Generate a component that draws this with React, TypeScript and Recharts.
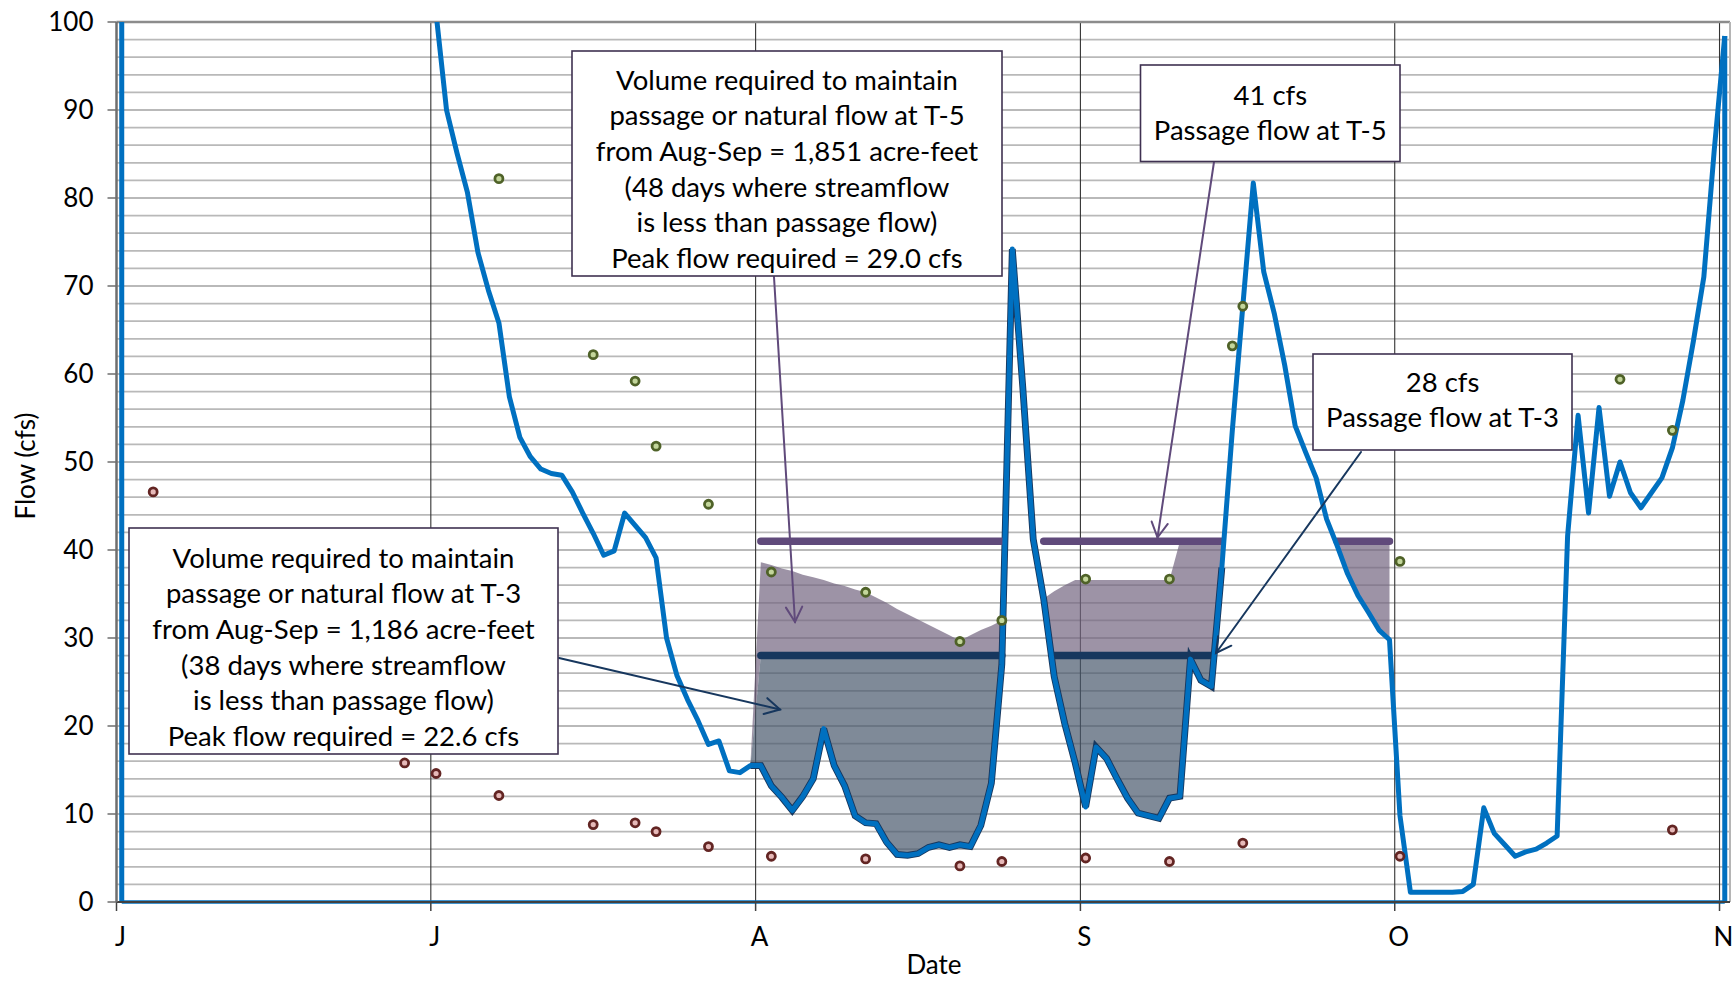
import React from 'react';
import {
  ComposedChart,
  Line,
  Area,
  XAxis,
  YAxis,
  CartesianGrid,
  ReferenceLine,
} from 'recharts';

const WIDTH = 1733;
const HEIGHT = 981;
const FONT = 'Lato, "Open Sans", sans-serif';

// x axis is a day count from Jun 1; a day's point sits mid-day (day + 0.5)
const MONTH_TICKS = [0, 30, 61, 92, 122, 153];
const MONTH_LABELS = ['J', 'J', 'A', 'S', 'O', 'N'];
const FLOW_TICKS = [0, 10, 20, 30, 40, 50, 60, 70, 80, 90, 100];
const X_MAX = 154;

const AUG_1 = 61;
const SEP_30 = 121;
const PASSAGE_T5 = 41;
const PASSAGE_T3 = 28;

// daily streamflow (cfs), Jul 1 (day 30) through Nov 1 (day 153)
const FLOW_START = 30;
const FLOW = [
  101, 90, 85.1, 80.6, 73.8, 69.5, 65.8, 57.4, 52.8, 50.6,
  49.2, 48.7, 48.5, 46.6, 44.2, 41.9, 39.4, 39.9, 44.2, 42.8,
  41.4, 39.1, 30.0, 25.7, 23.0, 20.6, 17.9, 18.3, 14.9, 14.7,
  15.5, 15.5, 13.2, 11.9, 10.4, 12.0, 14.0, 19.7, 15.5, 13.2,
  9.8, 9.0, 8.9, 6.8, 5.4, 5.3, 5.5, 6.2, 6.5, 6.2,
  6.5, 6.3, 8.7, 13.5, 27.0, 74.2, 58.5, 41.2, 34.4, 25.6,
  20.3, 15.8, 10.8, 17.6, 16.3, 14.0, 11.8, 10.1, 9.8, 9.5,
  11.8, 12.0, 27.6, 25.2, 24.5, 38.0, 53.6, 67.7, 81.7, 71.6,
  66.9, 61.0, 54.1, 51.1, 48.2, 43.5, 40.5, 37.3, 34.8, 32.9,
  30.9, 29.8, 9.8, 1.1, 1.1, 1.1, 1.1, 1.1, 1.2, 2.0,
  10.7, 7.8, 6.5, 5.2, 5.7, 6.0, 6.7, 7.5, 41.6, 55.3,
  44.2, 56.2, 46.1, 50.0, 46.5, 44.8, 46.5, 48.2, 51.6, 57.0,
  63.7, 71.0, 85.5, 98.4,
];

// flow needed at T-5 (natural flow, capped at passage), Aug 1 - Sep 30
const T5_TARGET = [
  38.6, 38.3, 37.9, 37.6, 37.2, 36.9, 36.6, 36.2, 35.9, 35.5,
  35.2, 34.6, 34.0, 33.3, 32.7, 32.1, 31.5, 30.9, 30.3, 29.7,
  30.3, 30.9, 31.4, 32.0, 32.6, 33.2, 33.8, 34.5, 35.3, 36.0,
  36.6, 36.6, 36.6, 36.6, 36.6, 36.6, 36.6, 36.6, 36.6, 36.6,
  41, 41, 41, 41, 41, 41, 41, 41, 41, 41,
  41, 41, 41, 41, 41, 41, 41, 41, 41, 41,
  41,
];

// spot measurements
const SPOT_DAYS = [3, 27, 30, 36, 45, 49, 51, 56, 62, 71, 80, 84, 92, 100, 106, 107, 122, 143, 148];
const SPOT_GREEN = [null, null, null, 82.2, 62.2, 59.2, 51.8, 45.2, 37.5, 35.2, 29.6, 32.0, 36.7, 36.7, 63.2, 67.7, 38.7, 59.4, 53.6];
const SPOT_RED = [46.6, 15.8, 14.6, 12.1, 8.8, 9.0, 8.0, 6.3, 5.2, 4.9, 4.1, 4.6, 5.0, 4.6, null, 6.7, 5.2, null, 8.2];

const GRID_VALUES: number[] = [];
for (let v = 2; v < 100; v += 2) GRID_VALUES.push(v);

const flowAt = (d: number) =>
  d >= FLOW_START && d - FLOW_START < FLOW.length ? FLOW[d - FLOW_START] : null;

const LAST_DAY = FLOW_START + FLOW.length - 1;

// the dark outline follows the flow through the T-3 shortfall stretches
let lastShort = AUG_1;
for (let d = AUG_1; d <= SEP_30; d++) {
  const f = flowAt(d);
  if (f !== null && f < PASSAGE_T3) lastShort = d;
}

const rows = Array.from({ length: LAST_DAY + 1 }, (_, d) => {
  const f = flowAt(d);
  const inWindow = d >= AUG_1 && d <= SEP_30;
  const spot = SPOT_DAYS.indexOf(d);
  let band3: number[] | null = null;
  let band5: number[] | null = null;
  if (f !== null && d === AUG_1 - 1) {
    band3 = [f, f];
    band5 = [f, f];
  } else if (f !== null && inWindow) {
    const top3 = Math.max(f, PASSAGE_T3);
    band3 = [f, top3];
    if (f < PASSAGE_T5) band5 = [top3, Math.max(top3, T5_TARGET[d - AUG_1])];
  }
  return {
    x: d + 0.5,
    flow: f,
    edge: d >= AUG_1 - 1 && d <= lastShort + 1 ? f : null,
    band3,
    band5,
    pass5: inWindow && f !== null && f < PASSAGE_T5 ? PASSAGE_T5 : null,
    pass3: inWindow && f !== null && f < PASSAGE_T3 ? PASSAGE_T3 : null,
    green: spot >= 0 ? SPOT_GREEN[spot] : null,
    red: spot >= 0 ? SPOT_RED[spot] : null,
  };
});

const LAST_X = LAST_DAY + 0.5;
const LAST_FLOW = FLOW[FLOW.length - 1];

const NOTES = [
  {
    x: 572, y: 51, w: 430, h: 225, first: 80,
    lines: [
      'Volume required to maintain',
      'passage or natural flow at T-5',
      'from Aug-Sep = 1,851 acre-feet',
      '(48 days where streamflow',
      'is less than passage flow)',
      'Peak flow required = 29.0 cfs',
    ],
  },
  { x: 1140.5, y: 65, w: 259.5, h: 96.5, first: 95, lines: ['41 cfs', 'Passage flow at T-5'] },
  { x: 1313, y: 354, w: 259, h: 96, first: 382, lines: ['28 cfs', 'Passage flow at T-3'] },
  {
    x: 129, y: 528, w: 429, h: 226, first: 558,
    lines: [
      'Volume required to maintain',
      'passage or natural flow at T-3',
      'from Aug-Sep = 1,186 acre-feet',
      '(38 days where streamflow',
      'is less than passage flow)',
      'Peak flow required = 22.6 cfs',
    ],
  },
];

const ARROWS = [
  { from: [774, 277], to: [795, 622], color: '#604a7b' },
  { from: [1214, 162], to: [1157.5, 537.5], color: '#604a7b' },
  { from: [1361, 452], to: [1216, 653], color: '#17375e' },
  { from: [559, 658], to: [780, 709.5], color: '#17375e' },
];

function Arrow({ from, to, color }: { from: number[]; to: number[]; color: string }) {
  const [x1, y1] = from;
  const [x2, y2] = to;
  const a = Math.atan2(y2 - y1, x2 - x1);
  const len = 17;
  const spread = 0.5;
  const p1 = [x2 - len * Math.cos(a - spread), y2 - len * Math.sin(a - spread)];
  const p2 = [x2 - len * Math.cos(a + spread), y2 - len * Math.sin(a + spread)];
  return (
    <g stroke={color} strokeWidth={2} fill="none" strokeLinecap="round">
      <line x1={x1} y1={y1} x2={x2} y2={y2} />
      <polyline points={`${p1[0]},${p1[1]} ${x2},${y2} ${p2[0]},${p2[1]}`} />
    </g>
  );
}

const LINE_GAP = 35.7;
const NOTE_FONT = 27.5;

export default function App() {
  const tickStyle = { fill: '#000', fontSize: 26, fontFamily: FONT };
  return (
    <div style={{ position: 'absolute', left: 0, top: 0, width: WIDTH, height: HEIGHT, background: '#fff' }}>
      <ComposedChart
        width={WIDTH}
        height={HEIGHT}
        data={rows}
        margin={{ top: 22, right: 3, bottom: 0, left: 0 }}
      >
        <CartesianGrid vertical={false} horizontalValues={GRID_VALUES} stroke="#b9b9b9" strokeWidth={1.8} />
        <CartesianGrid horizontal={false} verticalValues={MONTH_TICKS.slice(1)} stroke="#333333" strokeWidth={1.1} />
        <XAxis
          type="number"
          dataKey="x"
          domain={[0, X_MAX]}
          ticks={MONTH_TICKS}
          interval={0}
          allowDataOverflow
          tickFormatter={(v: number) => MONTH_LABELS[MONTH_TICKS.indexOf(v)]}
          height={79}
          tickSize={9}
          tickMargin={17}
          axisLine={{ stroke: '#404040', strokeWidth: 2 }}
          tickLine={{ stroke: '#404040', strokeWidth: 1.5 }}
          tick={{ ...tickStyle, dx: 4 }}
        />
        <YAxis
          type="number"
          domain={[0, 100]}
          ticks={FLOW_TICKS}
          interval={0}
          allowDataOverflow
          width={116.5}
          tickSize={9}
          tickMargin={14}
          axisLine={{ stroke: '#6e6e6e', strokeWidth: 2.5 }}
          tickLine={{ stroke: '#6e6e6e', strokeWidth: 1.5 }}
          tick={tickStyle}
        />
        <ReferenceLine y={100} stroke="#8c8c8c" strokeWidth={2.5} />
        <ReferenceLine x={X_MAX} stroke="#b5b5b5" strokeWidth={2} />

        <Area dataKey="band5" fill="#746580" fillOpacity={0.7} stroke="none" isAnimationActive={false} activeDot={false} />
        <Area dataKey="band3" fill="#48596c" fillOpacity={0.7} stroke="none" isAnimationActive={false} activeDot={false} />

        <Line dataKey="edge" stroke="#17375e" strokeWidth={6.8} dot={false} activeDot={false} isAnimationActive={false} />
        <Line dataKey="pass5" stroke="#604a7b" strokeWidth={7.5} strokeLinecap="round" dot={false} activeDot={false} isAnimationActive={false} />
        <Line dataKey="pass3" stroke="#17375e" strokeWidth={7.5} strokeLinecap="round" dot={false} activeDot={false} isAnimationActive={false} />
        <Line dataKey="flow" stroke="#0070c0" strokeWidth={5} strokeLinejoin="round" dot={false} activeDot={false} isAnimationActive={false} />

        {/* outline of the flow series: ends dropped to zero and the base */}
        <ReferenceLine segment={[{ x: 0.5, y: 0 }, { x: 0.5, y: 100 }]} stroke="#0070c0" strokeWidth={5} />
        <ReferenceLine segment={[{ x: 0.5, y: 0 }, { x: LAST_X, y: 0 }]} stroke="#0070c0" strokeWidth={3.5} />
        <ReferenceLine segment={[{ x: LAST_X, y: 0 }, { x: LAST_X, y: LAST_FLOW }]} stroke="#0070c0" strokeWidth={5} />

        <Line dataKey="green" stroke="none" dot={{ r: 4, fill: '#c3d69b', stroke: '#4f6228', strokeWidth: 2.8 }} activeDot={false} isAnimationActive={false} />
        <Line dataKey="red" stroke="none" dot={{ r: 4, fill: '#e6b9b8', stroke: '#632523', strokeWidth: 2.8 }} activeDot={false} isAnimationActive={false} />
      </ComposedChart>

      <svg
        width={WIDTH}
        height={HEIGHT}
        style={{ position: 'absolute', left: 0, top: 0, pointerEvents: 'none' }}
        fontFamily={FONT}
      >
        {ARROWS.map((a, i) => (
          <Arrow key={i} from={a.from} to={a.to} color={a.color} />
        ))}
        {NOTES.map((n, i) => (
          <g key={i}>
            <rect x={n.x} y={n.y} width={n.w} height={n.h} fill="#fff" stroke="#3f3151" strokeWidth={1.6} />
            {n.lines.map((t, j) => (
              <text
                key={j}
                x={n.x + n.w / 2}
                y={n.first + j * LINE_GAP + 9.5}
                textAnchor="middle"
                fontSize={NOTE_FONT}
                fill="#000"
              >
                {t}
              </text>
            ))}
          </g>
        ))}
        <text x={934} y={974} textAnchor="middle" fontSize={26} fill="#000">
          Date
        </text>
        <text
          x={25}
          y={466}
          textAnchor="middle"
          dominantBaseline="central"
          fontSize={26}
          fill="#000"
          transform="rotate(-90 25 466)"
        >
          Flow (cfs)
        </text>
      </svg>
    </div>
  );
}
